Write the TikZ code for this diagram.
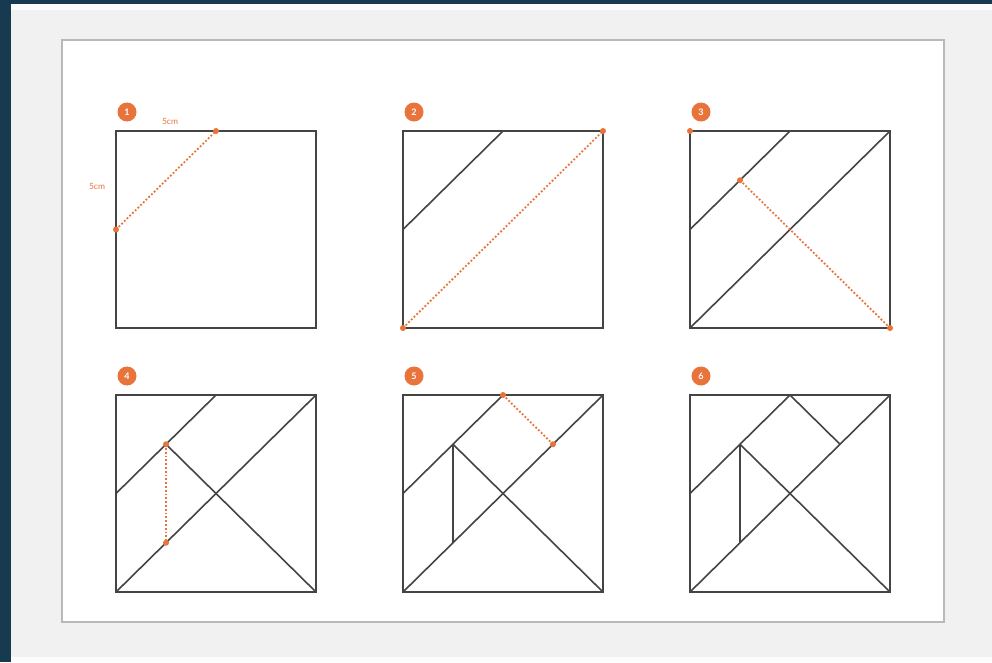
\documentclass[tikz,border=0pt]{standalone}
\usepackage{fontspec}
\setsansfont{Lato}
\usetikzlibrary{positioning}
\definecolor{navy}{HTML}{183A50}
\definecolor{pagegray}{HTML}{F1F1F1}
\definecolor{tanorange}{HTML}{E8743B}
\definecolor{inkgray}{HTML}{444444}

\begin{document}
\begin{tikzpicture}[x=1pt, y=-1pt, font=\sffamily,
    cut/.style={inkgray, line width=1.6pt},
    guide/.style={tanorange, line width=1.8pt, dotted},
    pin/.style={circle, fill=tanorange, inner sep=0pt, minimum size=6pt},
    badge/.style={circle, fill=tanorange, text=white, inner sep=0pt, minimum size=19pt, font=\sffamily\bfseries\fontsize{9}{9}\selectfont},
    measure/.style={text=tanorange, font=\sffamily\fontsize{8.5}{8.5}\selectfont, inner sep=1pt}]
  % ---- page, sheet and card ----
  \useasboundingbox (0,0) rectangle (992,662);
  \fill[navy] (0,0) rectangle (992,662);
  \fill[white!92!navy!20] (11,4) rectangle (992,662);
  \fill[pagegray] (11,10) rectangle (992,657);
  \draw[gray!55, line width=1.3pt, fill=white] (62,40) rectangle (944,622);
  % ---- the six steps: frame, cuts so far, next cut (dotted) ----
  \foreach \n/\sx/\sy/\ga/\gb in {1/116/131/ml/mt, 2/403/131/bl/tr, 3/690/131/p/br,
                                  4/116/395/p/s, 5/403/395/mt/r, 6/690/395/none/none} {
    \begin{scope}[shift={(\sx,\sy)}, x=200pt, y=-197pt]
      \coordinate (tl) at (0,0);      \coordinate (tr) at (1,0);
      \coordinate (bl) at (0,1);      \coordinate (br) at (1,1);
      \coordinate (ml) at (0,0.5);    \coordinate (mt) at (0.5,0);
      \coordinate (p) at (0.25,0.25); \coordinate (s) at (0.25,0.75);
      \coordinate (r) at (0.75,0.25);
      \draw[cut] (tl) -- (tr) -- (br) -- (bl) -- cycle;
      \ifnum\n>1 \draw[cut] (ml) -- (mt); \fi
      \ifnum\n>2 \draw[cut] (bl) -- (tr); \fi
      \ifnum\n>3 \draw[cut] (p) -- (br); \fi
      \ifnum\n>4 \draw[cut] (p) -- (s); \fi
      \ifnum\n>5 \draw[cut] (mt) -- (r); \fi
      \ifnum\n<6
        \draw[guide] (\ga) -- (\gb);
        \node[pin] (pa\n) at (\ga) {};
        \node[pin] (pb\n) at (\gb) {};
      \fi
      \node[badge] (badge\n) at ([shift={(11pt,19pt)}]tl) {\n};
    \end{scope}
  }
  % ---- extras ----
  \node[pin] (corner3) at (690,131) {};
  \node[measure] (top5) at (170,121) {5cm};
  \node[measure] (side5) at (97,186) {5cm};
\end{tikzpicture}
\end{document}
